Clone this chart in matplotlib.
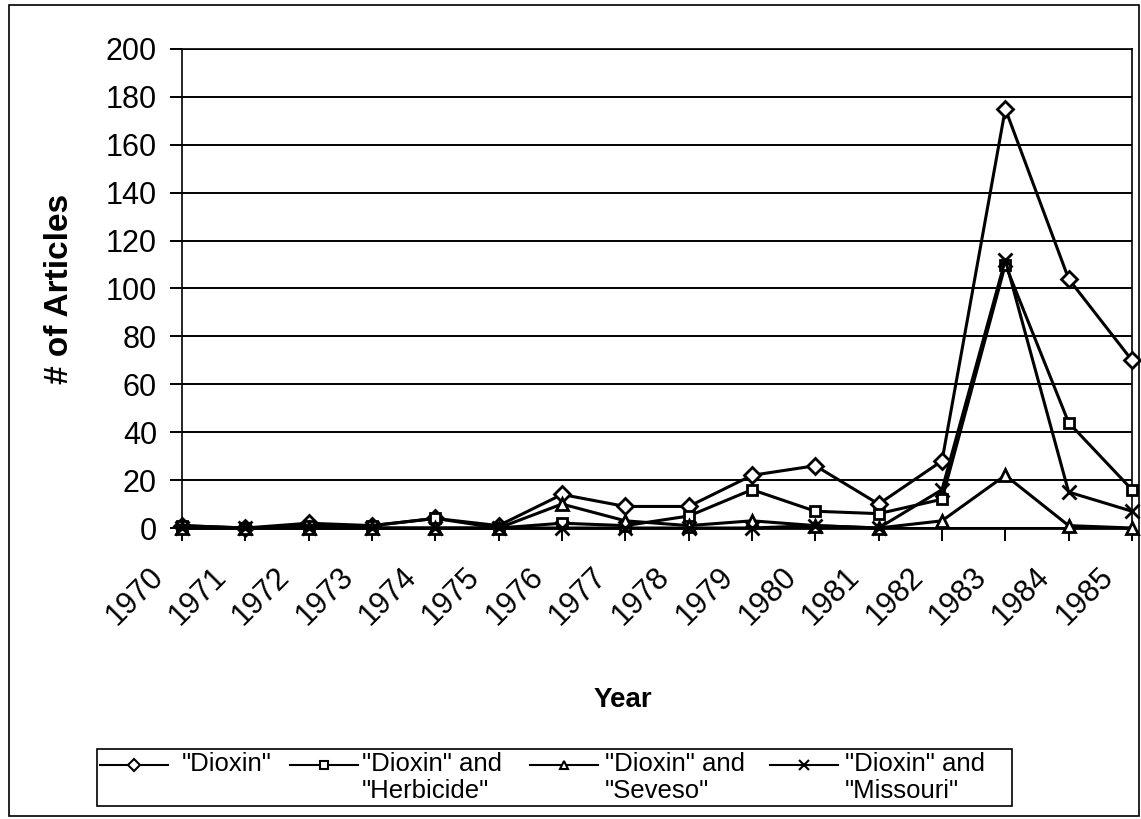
import numpy as np
import matplotlib.pyplot as plt
from matplotlib.lines import Line2D
from matplotlib.patches import Rectangle
import matplotlib.transforms as mtransforms

plt.rcParams['font.family'] = ['Liberation Sans', 'DejaVu Sans']

years = list(range(1970, 1986))
dioxin = [1, 0, 2, 1, 4, 1, 14, 9, 9, 22, 26, 10, 28, 175, 104, 70]
herbicide = [1, 0, 1, 1, 4, 0, 2, 1, 5, 16, 7, 6, 12, 110, 44, 16]
seveso = [0, 0, 0, 0, 0, 0, 10, 3, 1, 3, 1, 0, 3, 22, 1, 0]
missouri = [0, 0, 0, 0, 0, 0, 0, 0, 0, 0, 1, 0, 16, 112, 15, 7]

labels = ['"Dioxin"', '"Dioxin" and\n"Herbicide"', '"Dioxin" and\n"Seveso"', '"Dioxin" and\n"Missouri"']
markers = ['D', 's', '^', 'x']
msizes = [8, 7.5, 8.5, 10]

fig = plt.figure(figsize=(11.41, 8.19), dpi=100)
fig.patches.append(Rectangle((0.008, 0.004), 0.99, 0.99, transform=fig.transFigure,
                             fill=False, edgecolor='black', linewidth=1.2))

ax = fig.add_axes([0.1595, 0.3553, 0.8326, 0.5849])
ax.set_xlim(1970, 1985)
ax.set_ylim(0, 200)
ax.set_yticks(range(0, 201, 20))
ax.set_xticks(years)
ax.grid(axis='y', color='black', linewidth=1.4)
ax.set_axisbelow(True)

for vals, mk, ms in zip([dioxin, herbicide, seveso, missouri], markers, msizes):
    ax.plot(years, vals, color='black', linewidth=2.2, marker=mk, markersize=ms,
            markerfacecolor='white', markeredgecolor='black', markeredgewidth=2,
            clip_on=False, zorder=3)

for s in ax.spines.values():
    s.set_linewidth(1.2)
ax.spines['bottom'].set_linewidth(2)

ax.tick_params(axis='y', direction='out', length=9, width=1.4, labelsize=22, pad=9)
ax.tick_params(axis='x', direction='out', length=9, width=1.4, labelsize=22, pad=4)
ax.set_xticklabels([str(y) for y in years], rotation=45, ha='right', va='top',
                   rotation_mode='anchor')
offset = mtransforms.ScaledTranslation(-34 / 100, -16 / 100, fig.dpi_scale_trans)
for lbl in ax.get_xticklabels():
    lbl.set_transform(lbl.get_transform() + offset)

ax.set_ylabel('# of Articles', fontsize=24, fontweight='bold', va='center')
ax.yaxis.set_label_coords((60 / 1141 - 0.1595) / 0.8326, 0.5)
ax.set_xlabel('Year', fontsize=20, fontweight='bold', va='center')
ax.xaxis.set_label_coords((623 / 1141 - 0.1595) / 0.8326, ((819 - 700) / 819 - 0.3553) / 0.5849)

# legend box under the chart
fig.patches.append(Rectangle((97 / 1141, 1 - 806 / 819), (1012 - 97) / 1141, (806 - 749) / 819,
                             transform=fig.transFigure, fill=False, edgecolor='black',
                             linewidth=1.2))
starts = [100, 290, 530, 770]
text_x = [182, 362, 605, 845]
y_line = 1 - 765 / 819
for x0, tx, lab, mk, ms in zip(starts, text_x, labels, markers, msizes):
    fig.lines.append(Line2D([x0 / 1141, (x0 + 68) / 1141], [y_line, y_line],
                            transform=fig.transFigure, color='black', linewidth=1.5))
    fig.lines.append(Line2D([(x0 + 34) / 1141], [y_line], transform=fig.transFigure,
                            linestyle='none', marker=mk, markersize=ms * 0.75,
                            markerfacecolor='white', markeredgecolor='black', markeredgewidth=1.5))
    fig.text(tx / 1141, 1 - 752 / 819, lab, fontsize=18.5, ha='left', va='top',
             linespacing=1.15)

fig.savefig('out.png', dpi=100)
